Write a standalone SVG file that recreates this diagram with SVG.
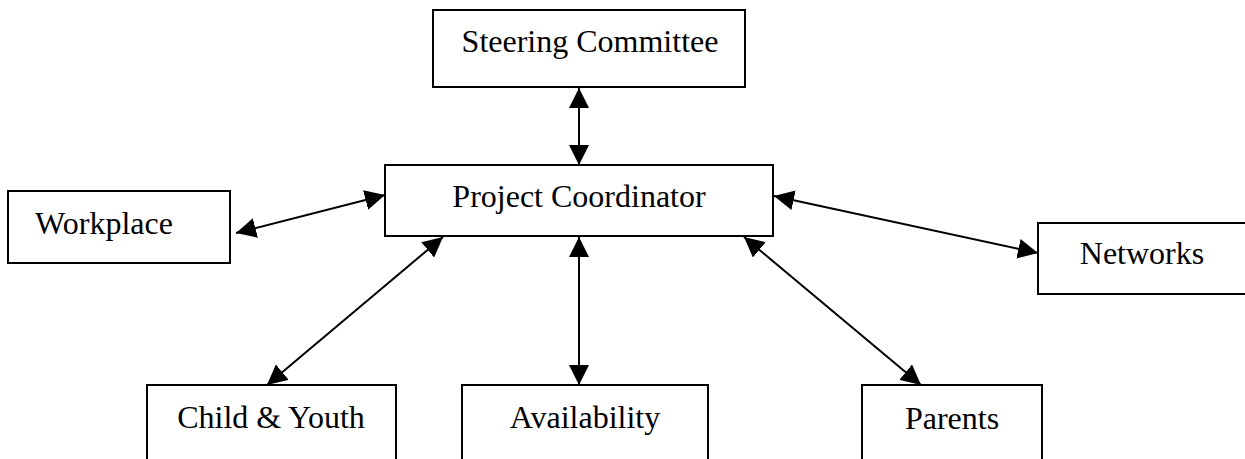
<svg xmlns="http://www.w3.org/2000/svg" width="1245" height="459" viewBox="0 0 1245 459">
  <defs>
    <marker id="ah" viewBox="0 0 20 20" refX="20" refY="10" markerWidth="20" markerHeight="20" markerUnits="userSpaceOnUse" orient="auto-start-reverse">
      <path d="M0,0 L20,10 L0,20 z" fill="#000"/>
    </marker>
    <style>
      .box { fill: #fff; stroke: #000; stroke-width: 2; }
      .lbl { font-family: "Liberation Serif", "Times New Roman", serif; font-size: 32px; fill: #000; text-anchor: middle; }
      .conn { stroke: #000; stroke-width: 2; fill: none; marker-start: url(#ah); marker-end: url(#ah); }
    </style>
  </defs>
  <rect width="1245" height="459" fill="#fff"/>
  <g id="connectors">
    <line class="conn" x1="579" y1="88" x2="579" y2="165"/>
    <line class="conn" x1="236" y1="233" x2="385" y2="195"/>
    <line class="conn" x1="774" y1="196" x2="1038" y2="253"/>
    <line class="conn" x1="443" y1="237" x2="267" y2="385"/>
    <line class="conn" x1="579" y1="237" x2="579" y2="385"/>
    <line class="conn" x1="744" y1="237" x2="921" y2="385"/>
  </g>
  <g id="steering">
    <rect class="box" x="433" y="10" width="312" height="77"/>
    <text class="lbl" x="590" y="52">Steering Committee</text>
  </g>
  <g id="coordinator">
    <rect class="box" x="385" y="165" width="388" height="71"/>
    <text class="lbl" x="579" y="207">Project Coordinator</text>
  </g>
  <g id="workplace">
    <rect class="box" x="8" y="191" width="222" height="72"/>
    <text class="lbl" x="104" y="234">Workplace</text>
  </g>
  <g id="networks">
    <rect class="box" x="1038" y="223" width="220" height="71"/>
    <text class="lbl" x="1142" y="264">Networks</text>
  </g>
  <g id="child">
    <rect class="box" x="147" y="385" width="249" height="90"/>
    <text class="lbl" x="271" y="428">Child &amp; Youth</text>
  </g>
  <g id="availability">
    <rect class="box" x="462" y="385" width="246" height="90"/>
    <text class="lbl" x="585" y="428">Availability</text>
  </g>
  <g id="parents">
    <rect class="box" x="862" y="385" width="180" height="90"/>
    <text class="lbl" x="952" y="429">Parents</text>
  </g>
</svg>
